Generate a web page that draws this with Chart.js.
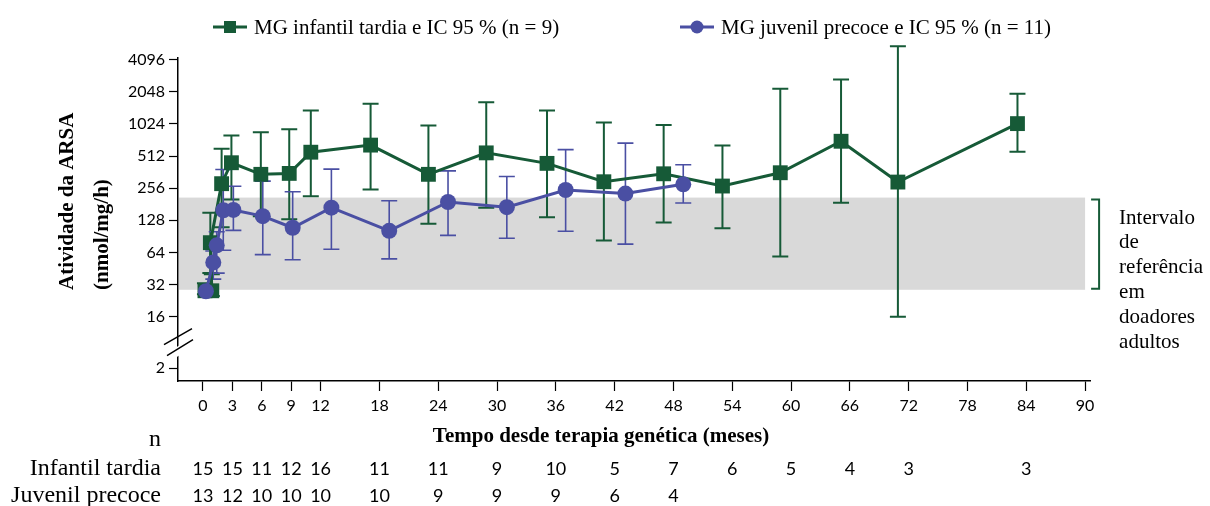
<!DOCTYPE html>
<html>
<head>
<meta charset="UTF-8">
<title>Atividade da ARSA</title>
<script src="https://cdn.jsdelivr.net/npm/chart.js"></script>
<style>
  html, body { margin: 0; padding: 0; background: #fff; }
  #chart { display: block; }
</style>
</head>
<body>
<canvas id="chart" width="1210" height="506"></canvas>
<script>
// values: months since gene therapy, ARSA activity (nmol/mg/h)
const tardiaMonths = [0.2, 0.9, 0.75, 1.9, 2.9, 5.9, 8.8, 11.0, 17.1, 23.0, 28.9, 35.1, 40.9, 47.0, 53.0, 58.9, 65.1, 70.9, 83.1];
const tardiaMean   = [28, 28, 79, 282, 443, 345, 352, 556, 648, 345, 548, 437, 294, 349, 268, 357, 704, 292, 1030];
const tardiaLow    = [26, 25, 41, 110, 200, 140, 131, 215, 249, 119, 168, 137, 83, 122, 108, 58.5, 187, 16, 560];
const tardiaHigh   = [33, 40, 151, 600, 798, 855, 910, 1370, 1580, 990, 1630, 1370, 1055, 1002, 643, 2180, 2660, 5450, 1965];

const precoceMonths = [0.3, 1.05, 1.4, 2.07, 3.1, 6.1, 9.15, 13.1, 19.0, 25.0, 31.0, 37.0, 43.1, 49.0];
const precoceMean   = [27.7, 51.6, 74.6, 159, 160, 140, 109, 168, 102, 190, 170, 246, 228, 278];
const precoceLow    = [26, 36, 41, 67, 103, 61, 54.6, 68.6, 55.7, 92.5, 87, 101, 76.6, 186];
const precoceHigh   = [31, 66, 100, 383, 267, 298, 237, 386, 195, 372, 329, 588, 676, 424];

const refRange = [28.6, 209];   // adult donor reference interval

const xTicks = [0, 3, 6, 9, 12, 18, 24, 30, 36, 42, 48, 54, 60, 66, 72, 78, 84, 90];
const yTicks = [2, 16, 32, 64, 128, 256, 512, 1024, 2048, 4096];

// number at risk table
const nMonths  = [0, 3, 6, 9, 12, 18, 24, 30, 36, 42, 48, 54, 60, 66, 72, 84];
const nTardia  = [15, 15, 11, 12, 16, 11, 11, 9, 10, 5, 7, 6, 5, 4, 3, 3];
const nPrecoce = [13, 12, 10, 10, 10, 10, 9, 9, 9, 6, 4];

const legendLabels = ['MG infantil tardia e IC 95 % (n = 9)', 'MG juvenil precoce e IC 95 % (n = 11)'];
const refText = ['Intervalo', 'de', 'referência', 'em', 'doadores', 'adultos'];

const GREEN = '#165a37';
const BLUE = '#4a4fa3';
const SERIF = '"Liberation Serif", "Times New Roman", serif';
const SANS = 'Lato, "Liberation Sans", sans-serif';

// log2 axis with a break between 2 and 16
const BREAK_TICK = 2.4;
const BREAK_MID = 3.1;
function yPos(v) { return v <= 2 ? BREAK_TICK : Math.log2(v); }

function points(months, mean, lo, hi) {
  return months.map((m, i) => ({ x: m, y: yPos(mean[i]), lo: lo[i], hi: hi[i] }));
}

const refBand = {
  id: 'refBand',
  beforeDatasetsDraw(chart) {
    const { ctx, chartArea, scales: { x, y } } = chart;
    const top = y.getPixelForValue(yPos(refRange[1]));
    const bot = y.getPixelForValue(yPos(refRange[0]));
    const right = x.getPixelForValue(90);
    ctx.save();
    ctx.fillStyle = '#d9d9d9';
    ctx.fillRect(chartArea.left + 1, top, right - chartArea.left - 1, bot - top);
    // bracket
    ctx.strokeStyle = GREEN;
    ctx.lineWidth = 2;
    ctx.beginPath();
    ctx.moveTo(right + 6, top + 2);
    ctx.lineTo(right + 14, top + 2);
    ctx.lineTo(right + 14, bot - 1);
    ctx.lineTo(right + 6, bot - 1);
    ctx.stroke();
    ctx.fillStyle = '#000';
    ctx.font = '21px ' + SERIF;
    ctx.textBaseline = 'middle';
    ctx.textAlign = 'left';
    refText.forEach((t, i) => ctx.fillText(t, right + 34, 218 + i * 24.8));
    ctx.restore();
  }
};

const errorBars = {
  id: 'errorBars',
  beforeDatasetsDraw(chart) {
    const { ctx, scales: { x, y } } = chart;
    chart.data.datasets.forEach(ds => {
      ctx.save();
      ctx.strokeStyle = ds.borderColor;
      ctx.lineWidth = ds.errWidth;
      ds.data.forEach(p => {
        const px = x.getPixelForValue(p.x);
        const t = y.getPixelForValue(yPos(p.hi));
        const b = y.getPixelForValue(yPos(p.lo));
        ctx.beginPath();
        ctx.moveTo(px, t); ctx.lineTo(px, b);
        ctx.moveTo(px - 8, t); ctx.lineTo(px + 8, t);
        ctx.moveTo(px - 8, b); ctx.lineTo(px + 8, b);
        ctx.stroke();
      });
      ctx.restore();
    });
  }
};

const decorations = {
  id: 'decorations',
  afterDraw(chart) {
    const { ctx, chartArea, scales: { x, y } } = chart;
    ctx.save();
    // axis break
    const cx = chartArea.left, cy = y.getPixelForValue(BREAK_MID);
    ctx.fillStyle = '#fff';
    ctx.beginPath();
    ctx.moveTo(cx - 4, cy + 3); ctx.lineTo(cx + 4, cy - 2);
    ctx.lineTo(cx + 4, cy + 8); ctx.lineTo(cx - 4, cy + 13);
    ctx.closePath(); ctx.fill();
    ctx.strokeStyle = '#000';
    ctx.lineWidth = 1.5;
    ctx.beginPath();
    ctx.moveTo(cx - 14, cy - 1); ctx.lineTo(cx + 14, cy - 17);
    ctx.moveTo(cx - 11, cy + 10); ctx.lineTo(cx + 15, cy - 6);
    ctx.stroke();

    // y title
    ctx.fillStyle = '#000';
    ctx.font = 'bold 21px ' + SERIF;
    ctx.textAlign = 'left';
    ctx.textBaseline = 'middle';
    ctx.save();
    ctx.translate(68, 290);
    ctx.rotate(-Math.PI / 2);
    ctx.fillText('Atividade da ARSA', 0, 0);
    ctx.fillText('(nmol/mg/h)', 0, 35);
    ctx.restore();

    // x title
    ctx.textAlign = 'center';
    ctx.fillText('Tempo desde terapia genética (meses)', 601, 437);

    // n table
    ctx.font = '24px ' + SERIF;
    ctx.textAlign = 'right';
    ctx.fillText('n', 161, 440);
    ctx.fillText('Infantil tardia', 161, 469);
    ctx.fillText('Juvenil precoce', 161, 496);
    ctx.font = '18px ' + SANS;
    ctx.textAlign = 'center';
    nTardia.forEach((n, i) => ctx.fillText(String(n), x.getPixelForValue(nMonths[i]), 469));
    nPrecoce.forEach((n, i) => ctx.fillText(String(n), x.getPixelForValue(nMonths[i]), 496));

    // legend
    const items = [
      { x0: 213, color: GREEN, style: 'rect' },
      { x0: 680, color: BLUE, style: 'circle' }
    ];
    ctx.font = '21px ' + SERIF;
    ctx.textAlign = 'left';
    items.forEach((it, i) => {
      ctx.strokeStyle = it.color;
      ctx.fillStyle = it.color;
      ctx.lineWidth = 3;
      ctx.beginPath();
      ctx.moveTo(it.x0, 27); ctx.lineTo(it.x0 + 34, 27);
      ctx.stroke();
      if (it.style === 'rect') ctx.fillRect(it.x0 + 11, 21, 12, 12);
      else { ctx.beginPath(); ctx.arc(it.x0 + 17, 27, 6.5, 0, Math.PI * 2); ctx.fill(); }
      ctx.fillStyle = '#000';
      ctx.fillText(legendLabels[i], it.x0 + 41, 28);
    });
    ctx.restore();
  }
};

new Chart(document.getElementById('chart'), {
  type: 'line',
  data: {
    datasets: [
      {
        label: legendLabels[0],
        data: points(tardiaMonths, tardiaMean, tardiaLow, tardiaHigh),
        borderColor: GREEN,
        backgroundColor: GREEN,
        borderWidth: 3,
        pointStyle: 'rect',
        pointRadius: 10.5,
        pointBorderWidth: 0,
        errWidth: 2,
        order: 1
      },
      {
        label: legendLabels[1],
        data: points(precoceMonths, precoceMean, precoceLow, precoceHigh),
        borderColor: BLUE,
        backgroundColor: BLUE,
        borderWidth: 3,
        pointStyle: 'circle',
        pointRadius: 8,
        pointBorderWidth: 0,
        errWidth: 1.6,
        order: 0
      }
    ]
  },
  options: {
    responsive: false,
    animation: false,
    devicePixelRatio: 1,
    events: [],
    layout: { padding: { left: 0, right: 120, top: 58, bottom: 0 } },
    plugins: { legend: { display: false }, tooltip: { enabled: false } },
    scales: {
      x: {
        type: 'linear',
        min: -2.55,
        max: 90.5,
        afterFit(s) { s.height = 125; },
        afterBuildTicks(s) { s.ticks = xTicks.map(v => ({ value: v })); },
        border: { color: '#000', width: 1.5 },
        grid: { drawOnChartArea: false, color: '#000', tickLength: 10, tickWidth: 1.2 },
        ticks: { autoSkip: false, maxRotation: 0, padding: 5, color: '#000', font: { family: SANS, size: 16 } }
      },
      y: {
        type: 'linear',
        min: 2,
        max: 12.05,
        afterFit(s) { s.width = 178; },
        afterBuildTicks(s) { s.ticks = yTicks.map(v => ({ value: yPos(v) })); },
        border: { color: '#000', width: 1.5 },
        grid: { drawOnChartArea: false, color: '#000', tickLength: 9, tickWidth: 1.2 },
        ticks: {
          autoSkip: false,
          padding: 4,
          color: '#000',
          font: { family: SANS, size: 16 },
          callback: (v, i) => String(yTicks[i])
        }
      }
    }
  },
  plugins: [refBand, errorBars, decorations]
});
</script>
</body>
</html>
